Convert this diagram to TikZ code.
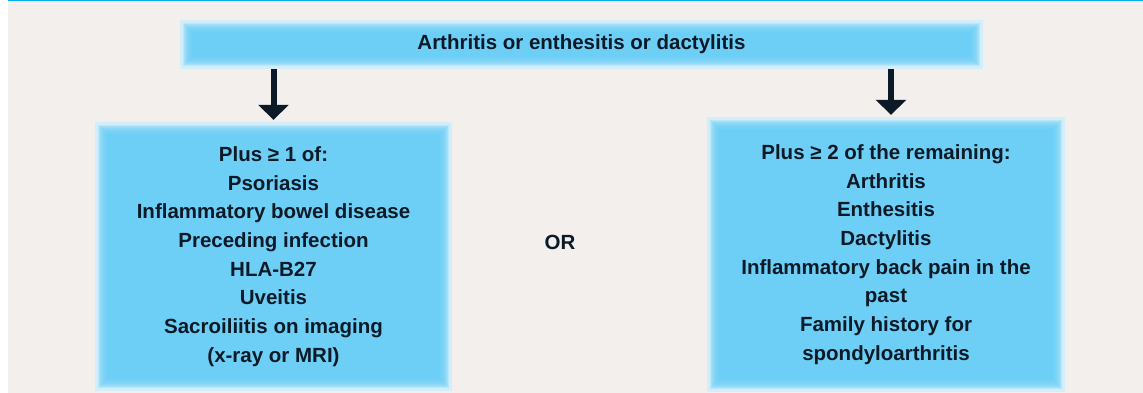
\documentclass[tikz,border=0pt]{standalone}
\usepackage{fontspec}
\setmainfont{Liberation Sans}
\usetikzlibrary{arrows.meta,backgrounds,positioning}

\definecolor{boxblue}{HTML}{6DCFF6}
\definecolor{boxpale}{HTML}{D2EEFA}
\definecolor{pagegrey}{HTML}{F2EFEC}
\definecolor{rulecyan}{HTML}{00AEEF}
\definecolor{inkdark}{HTML}{0B1A26}

\tikzset{
  critbox/.style={inner sep=0pt, align=center, text=inkdark,
    font=\bfseries\fontsize{20.5}{28.7}\selectfont},
  downarrow/.style={inkdark, line width=6pt,
    -{Triangle[width=30pt,length=15pt]}, shorten >=2pt},
}

% pale frame with a soft blue core
\newcommand{\glowfill}[1]{%
  \fill[boxpale] (#1.north west) rectangle (#1.south east);
  \foreach \d in {3,...,11}
    \fill[boxblue,opacity=0.24] ([xshift=\d pt,yshift=-\d pt]#1.north west)
      rectangle ([xshift=-\d pt,yshift=\d pt]#1.south east);
  \fill[boxblue] ([xshift=12pt,yshift=-12pt]#1.north west)
    rectangle ([xshift=-12pt,yshift=12pt]#1.south east);
}

\begin{document}
\begin{tikzpicture}[x=1pt,y=-1pt]
  \useasboundingbox (0,0) rectangle (1143,393);

  \node[critbox, minimum width=803pt, minimum height=49pt] (top) at (581.5,44.5)
    {Arthritis or enthesitis or dactylitis};

  \node[critbox, minimum width=357pt, minimum height=269pt] (left) at (273.5,256.5)
    {Plus ≥ 1 of:\\ Psoriasis\\ Inflammatory bowel disease\\ Preceding infection\\
     HLA-B27\\ Uveitis\\ Sacroiliitis on imaging\\ (x-ray or MRI)};

  \node[critbox, minimum width=358pt, minimum height=275pt] (right) at (886,254.5)
    {Plus ≥ 2 of the remaining:\\ Arthritis\\ Enthesitis\\ Dactylitis\\
     Inflammatory back pain in the\\ past\\ Family history for\\ spondyloarthritis};

  \node[critbox] (or) at (560,242) {OR};

  \begin{scope}[on background layer]
    \fill[pagegrey] (8,0) rectangle (1143,393);
    \draw[rulecyan, line width=1.5pt] (8,0.75) -- (1143,0.75);
    \glowfill{top}
    \glowfill{left}
    \glowfill{right}
  \end{scope}

  \draw[downarrow] (top.south -| left.north) -- (left.north);
  \draw[downarrow] ([xshift=5pt]top.south -| right.north) -- ([xshift=5pt]right.north);
\end{tikzpicture}
\end{document}
